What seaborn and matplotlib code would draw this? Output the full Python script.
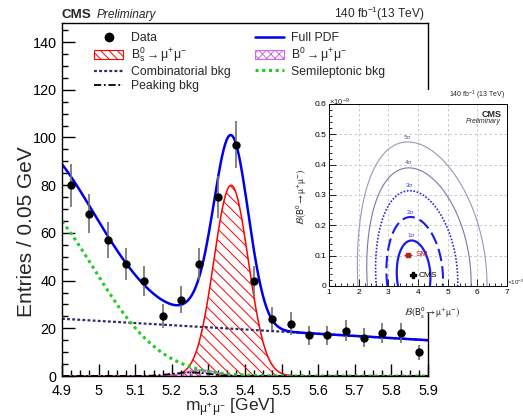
import numpy as np
import pandas as pd
import matplotlib
matplotlib.use("Agg")
import matplotlib.pyplot as plt
import seaborn as sns
from matplotlib.patches import Patch, Rectangle
from matplotlib.lines import Line2D
from matplotlib.ticker import MultipleLocator, FuncFormatter

# --- binned data (entries per 0.05 GeV) ---
bin_centres = [4.925, 4.975, 5.025, 5.075, 5.125, 5.175, 5.225, 5.275, 5.325, 5.375,
               5.425, 5.475, 5.525, 5.575, 5.625, 5.675, 5.725, 5.775, 5.825, 5.875]
counts = [80, 68, 57, 47, 40, 25, 32, 47, 75, 97,
          40, 24, 22, 17, 17, 19, 16, 18, 18, 10]

# --- fit components, parameters ---
comb_ends = [24.0, 15.0]                      # combinatorial at 4.9 and 5.9 GeV
semi_amp, semi_mu, semi_sigma = 75.0, 4.80, 0.185
bs_amp, bs_mu, bs_sigma = 80.0, 5.362, 0.047
b0_amp, b0_mu, b0_sigma = 2.5, 5.28, 0.040
peak_amp, peak_mu, peak_sigma = 1.5, 5.25, 0.050

# --- inset: 2D likelihood contours in the (Bs, B0) branching-fraction plane (x1e-9) ---
sigma_labels = ["1σ", "2σ", "3σ", "4σ", "5σ"]
contour_radii = [1.0, 1.68, 2.44, 3.10, 3.85]
best_fit = (3.83, 0.036)
sm_point = (3.66, 0.103)
sm_bs_err = 0.14
width_sqrt_bs, width_bd, corr = 0.145, 0.114, -0.08


def gauss(x, amp, mu, sigma):
    return amp * np.exp(-0.5 * ((x - mu) / sigma) ** 2)


mass = np.linspace(4.9, 5.9, 501)
curves = pd.DataFrame({"mass": mass})
curves["comb"] = np.interp(mass, [4.9, 5.9], comb_ends)
curves["semi"] = gauss(mass, semi_amp, semi_mu, semi_sigma)
curves["bs"] = gauss(mass, bs_amp, bs_mu, bs_sigma)
curves["b0"] = gauss(mass, b0_amp, b0_mu, b0_sigma)
curves["peak"] = gauss(mass, peak_amp, peak_mu, peak_sigma)
curves["full"] = curves[["comb", "semi", "bs", "b0", "peak"]].sum(axis=1)

data = pd.DataFrame({"mass": bin_centres, "entries": counts})
data["err"] = np.sqrt(data["entries"])

sns.set_theme(style="ticks")
plt.rcParams.update({
    "font.family": ["Liberation Sans", "DejaVu Sans"],
    "mathtext.fontset": "custom",
    "mathtext.rm": "Liberation Sans",
    "mathtext.it": "Liberation Sans:italic",
    "mathtext.bf": "Liberation Sans:bold",
    "hatch.linewidth": 0.7,
    "axes.edgecolor": "black",
    "axes.linewidth": 1.0,
    "xtick.color": "black",
    "ytick.color": "black",
})

fig = plt.figure(figsize=(5.23, 4.2), dpi=100)
ax = fig.add_axes([62 / 523, 1 - 376 / 420, 366 / 523, 353 / 420])

# hatched signal shapes
ax.fill_between(curves["mass"], 0, curves["bs"], facecolor="none", edgecolor="red",
                hatch="\\\\\\", linewidth=0)
ax.fill_between(curves["mass"], 0, curves["b0"], facecolor="none", edgecolor="#cc66ee",
                hatch="xxxx", linewidth=0)
sns.lineplot(data=curves, x="mass", y="bs", color="red", lw=1.1, ax=ax)
sns.lineplot(data=curves, x="mass", y="b0", color="#cc66ee", lw=1.1, ax=ax)
sns.lineplot(data=curves, x="mass", y="peak", color="black", lw=1.3,
             linestyle=(0, (4, 1.5, 1, 1.5)), ax=ax)
sns.lineplot(data=curves, x="mass", y="comb", color="#2e2e6e", lw=1.6,
             linestyle=(0, (1.3, 1.0)), ax=ax)
sns.lineplot(data=curves, x="mass", y="semi", color="#22cc22", lw=2.2,
             linestyle=(0, (1, 1.2)), ax=ax)
sns.lineplot(data=curves, x="mass", y="full", color="#0000ee", lw=1.8, ax=ax)

ax.errorbar(data["mass"], data["entries"], yerr=data["err"], fmt="none",
            ecolor="#707070", elinewidth=1.2, zorder=4)
sns.scatterplot(data=data, x="mass", y="entries", color="black", s=36,
                edgecolor="black", linewidth=0, zorder=5, ax=ax)

ax.set_xlim(4.9, 5.9)
ax.set_ylim(0, 148)
ax.xaxis.set_major_locator(MultipleLocator(0.1))
ax.xaxis.set_minor_locator(MultipleLocator(0.025))
ax.yaxis.set_major_locator(MultipleLocator(20))
ax.yaxis.set_minor_locator(MultipleLocator(5))
ax.xaxis.set_major_formatter(FuncFormatter(lambda v, p: f"{v:g}"))
ax.tick_params(which="both", direction="in", width=1.0, labelsize=10.4)
ax.tick_params(which="major", length=9)
ax.tick_params(axis="x", which="major", pad=5.5)
ax.tick_params(axis="y", which="major", pad=4)
ax.tick_params(which="minor", length=4.5)
ax.set_xlabel(r"$\mathrm{m_{\mu^{+}\mu^{-}}}$ [GeV]", fontsize=12.5)
ax.set_ylabel("Entries / 0.05 GeV", fontsize=15)
ax.xaxis.set_label_coords(0.46, -0.058)
ax.yaxis.set_label_coords(-0.072, 0.41)

legend_handles = [
    Line2D([], [], color="black", marker="o", markersize=6, linestyle="none"),
    Patch(facecolor="none", edgecolor="red", hatch="\\\\\\\\", lw=0.8),
    Line2D([], [], color="#2e2e6e", lw=1.6, linestyle=(0, (1.3, 1.0))),
    Line2D([], [], color="black", lw=1.3, linestyle=(0, (4, 1.5, 1, 1.5))),
    Line2D([], [], color="#0000ee", lw=1.8),
    Patch(facecolor="none", edgecolor="#cc66ee", hatch="xxxx", lw=0.8),
    Line2D([], [], color="#22cc22", lw=2.2, linestyle=(0, (1, 1.2))),
]
legend_labels = [
    "Data",
    r"$\mathrm{B_s^0} \rightarrow \mathrm{\mu^{+}\mu^{-}}$",
    "Combinatorial bkg",
    "Peaking bkg",
    "Full PDF",
    r"$\mathrm{B^0} \rightarrow \mathrm{\mu^{+}\mu^{-}}$",
    "Semileptonic bkg",
]
ax.legend(legend_handles, legend_labels, ncol=2, loc="upper left",
          bbox_to_anchor=(0.087, 0.975), frameon=False, fontsize=8.8,
          handlelength=2.4, handletextpad=0.6, columnspacing=2.0,
          labelspacing=0.15, borderpad=0, borderaxespad=0)

fig.text(62 / 523, 1 - 18 / 420, "CMS", fontsize=9.6, fontweight="bold", va="baseline")
fig.text(97 / 523, 1 - 18 / 420, "Preliminary", fontsize=8.6, style="italic", va="baseline")
fig.text(424 / 523, 1 - 18 / 420, r"140 fb$^{-1}$(13 TeV)", fontsize=8.6,
         ha="right", va="baseline")

# --- inset ---
fig.add_artist(Rectangle((295 / 523, 1 - 313 / 420), 228 / 523, 223 / 420,
                         transform=fig.transFigure, facecolor="white",
                         edgecolor="none", zorder=2))
axi = fig.add_axes([329 / 523, 1 - 286 / 420, 178 / 523, 182 / 420], zorder=3)
axi.set_facecolor("white")

bs_grid, bd_grid = np.meshgrid(np.linspace(1, 7, 500), np.linspace(0, 0.6, 400))
a = (np.sqrt(bs_grid) - np.sqrt(best_fit[0])) / width_sqrt_bs
b = (bd_grid - best_fit[1]) / width_bd
q = (a ** 2 - 2 * corr * a * b + b ** 2) / (1 - corr ** 2)

contour_styles = [
    dict(color="#1a1aee", lw=1.6, ls="-"),
    dict(color="#1a1aee", lw=1.5, ls=(0, (6, 2.5))),
    dict(color="#2a2ad6", lw=1.2, ls=(0, (1, 1))),
    dict(color="#7878a8", lw=0.8, ls="-"),
    dict(color="#9898b8", lw=0.8, ls="-"),
]
label_colors = ["#3a3ae0", "#3a3ae0", "#3a3ae0", "#555585", "#555585"]
for r, lab, st, lc in zip(contour_radii, sigma_labels, contour_styles, label_colors):
    axi.contour(bs_grid, bd_grid, q, levels=[r ** 2], colors=[st["color"]],
                linewidths=st["lw"], linestyles=[st["ls"]])
    top_bs = (np.sqrt(best_fit[0]) + corr * r * width_sqrt_bs) ** 2
    top_bd = best_fit[1] + r * width_bd
    axi.text(top_bs, top_bd + 0.008, lab, fontsize=4.5, color=lc, ha="center", va="bottom")

axi.errorbar([sm_point[0]], [sm_point[1]], xerr=[sm_bs_err], fmt="s", color="#bb2222",
             markersize=3, elinewidth=1.0, capsize=0)
axi.text(sm_point[0] + 0.25, sm_point[1], "SM", color="#bb2222", fontsize=6, va="center")
axi.plot([best_fit[0]], [best_fit[1]], marker="P", color="black", markersize=5, linestyle="none")
axi.text(best_fit[0] + 0.2, best_fit[1], "CMS", color="black", fontsize=6, va="center")

axi.set_xlim(1, 7)
axi.set_ylim(0, 0.6)
axi.xaxis.set_major_locator(MultipleLocator(1))
axi.xaxis.set_minor_locator(MultipleLocator(0.2))
axi.yaxis.set_major_locator(MultipleLocator(0.1))
axi.yaxis.set_minor_locator(MultipleLocator(0.02))
axi.xaxis.set_major_formatter(FuncFormatter(lambda v, p: f"{v:g}"))
axi.yaxis.set_major_formatter(FuncFormatter(lambda v, p: f"{v:g}"))
axi.tick_params(which="both", direction="in", width=0.6, labelsize=6, pad=2)
axi.tick_params(which="major", length=5)
axi.tick_params(which="minor", length=2.5)
axi.grid(True, which="major", color="#c0c0c0", lw=0.6, ls=(0, (3, 3)))
axi.set_axisbelow(True)
for sp in axi.spines.values():
    sp.set_linewidth(0.7)
axi.set_xlabel(r"$\mathcal{B}(\mathrm{B_s^0} \rightarrow \mathrm{\mu^{+}\mu^{-}})$",
               fontsize=7, math_fontfamily="stixsans")
axi.set_ylabel(r"$\mathcal{B}(\mathrm{B^0} \rightarrow \mathrm{\mu^{+}\mu^{-}})$",
               fontsize=7, math_fontfamily="stixsans")
axi.xaxis.set_label_coords(0.577, -0.105)
axi.yaxis.set_label_coords(-0.112, 0.49)
axi.text(0.0, 1.01, r"$\times10^{-9}$", transform=axi.transAxes, fontsize=5.5,
         ha="left", va="center")
axi.text(1.0, 0.02, r"$\times10^{-9}$", transform=axi.transAxes, fontsize=4.5,
         ha="left", va="center")
axi.text(0.99, 1.01, r"140 fb$^{-1}$ (13 TeV)", transform=axi.transAxes, fontsize=5,
         ha="right", va="bottom")
axi.text(0.972, 0.945, "CMS", transform=axi.transAxes, fontsize=6.5, fontweight="bold",
         ha="right", va="center")
axi.text(0.965, 0.903, "Preliminary", transform=axi.transAxes, fontsize=5,
         style="italic", ha="right", va="center")

fig.savefig("out.png", dpi=100)
